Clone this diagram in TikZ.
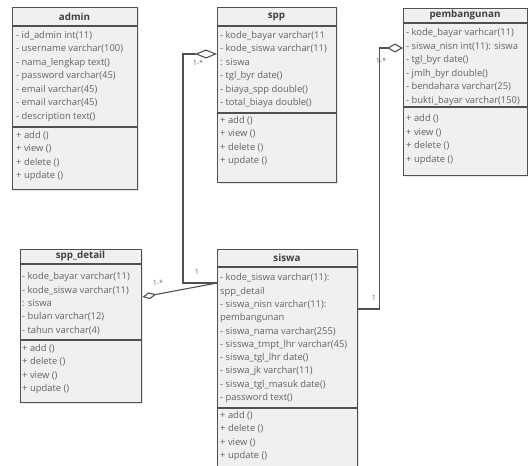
\documentclass[tikz,border=0pt]{standalone}
\usepackage{fontspec}
\setmainfont{Open Sans}
\usetikzlibrary{arrows.meta,shadows}

\definecolor{boxfill}{HTML}{F0F0F0}
\definecolor{boxline}{HTML}{505050}
\definecolor{membertext}{HTML}{636363}

\tikzset{
  classbox/.style={draw=boxline, line width=1.4pt, fill=boxfill, anchor=north west, inner sep=0pt,
    drop shadow={opacity=0.2, shadow xshift=1.5pt, shadow yshift=-1.5pt}},
  classtitle/.style={font=\bfseries\fontsize{9.8}{11}\selectfont, text=black!75, inner sep=0pt},
  members/.style={anchor=north west, align=left, inner sep=0pt, text=membertext,
    font=\fontsize{9.4}{13.5}\selectfont, execute at begin node=\strut},
  divider/.style={draw=boxline, line width=1.3pt},
  assoc/.style={draw=boxline, line width=1.1pt},
  mult/.style={font=\fontsize{7.2}{8}\selectfont, text=membertext, inner sep=0pt},
}

\begin{document}
\begin{tikzpicture}[x=1pt, y=-1pt]
  \useasboundingbox (0,0) rectangle (528,466);
  \clip (0,0) rectangle (528,466);

  % admin
  \node[classbox, minimum width=125pt, minimum height=182pt] (admin) at (12,7) {};
  \draw[divider] ([yshift=-19pt]admin.north west) -- ([yshift=-19pt]admin.north east);
  \draw[divider] ([yshift=-120pt]admin.north west) -- ([yshift=-120pt]admin.north east);
  \node[classtitle] (admin-t) at (74.5,16.5) {admin};
  \node[members] (admin-a) at (16,31) {- id\_admin int(11)\\- username varchar(100)\\- nama\_lengkap text()\\- password varchar(45)\\- email varchar(45)\\- email varchar(45)\\- description text()};
  \node[members] (admin-m) at (16,131) {+ add ()\\+ view ()\\+ delete ()\\+ update ()};

  % spp
  \node[classbox, minimum width=119pt, minimum height=175pt] (spp) at (217,7) {};
  \draw[divider] ([yshift=-19pt]spp.north west) -- ([yshift=-19pt]spp.north east);
  \draw[divider] ([yshift=-106pt]spp.north west) -- ([yshift=-106pt]spp.north east);
  \node[classtitle] (spp-t) at (276.5,16.5) {spp};
  \node[members] (spp-a) at (220,31) {- kode\_bayar varchar(11\\- kode\_siswa varchar(11)\\: siswa\\- tgl\_byr date()\\- biaya\_spp double()\\- total\_biaya double()};
  \node[members] (spp-m) at (220,116) {+ add ()\\+ view ()\\+ delete ()\\+ update ()};

  % pembangunan
  \node[classbox, minimum width=124pt, minimum height=167pt] (pemb) at (403,8) {};
  \draw[divider] ([yshift=-15pt]pemb.north west) -- ([yshift=-15pt]pemb.north east);
  \draw[divider] ([yshift=-99pt]pemb.north west) -- ([yshift=-99pt]pemb.north east);
  \node[classtitle] (pemb-t) at (465,15) {pembangunan};
  \node[members] (pemb-a) at (406,28.5) {- kode\_bayar varhcar(11)\\- siswa\_nisn int(11): siswa\\- tgl\_byr date()\\- jmlh\_byr double()\\- bendahara varchar(25)\\- bukti\_bayar varchar(150)};
  \node[members] (pemb-m) at (406,114.5) {+ add ()\\+ view ()\\+ delete ()\\+ update ()};

  % spp_detail
  \node[classbox, minimum width=121pt, minimum height=153pt] (sppdetail) at (20,249) {};
  \draw[divider] ([yshift=-15pt]sppdetail.north west) -- ([yshift=-15pt]sppdetail.north east);
  \draw[divider] ([yshift=-91pt]sppdetail.north west) -- ([yshift=-91pt]sppdetail.north east);
  \node[classtitle] (sppdetail-t) at (80.5,256) {spp\_detail};
  \node[members, font=\fontsize{9.4}{13.3}\selectfont] (sppdetail-a) at (22,272.5) {- kode\_bayar varchar(11)\\- kode\_siswa varchar(11)\\: siswa\\- bulan varchar(12)\\- tahun varchar(4)};
  \node[members] (sppdetail-m) at (22,344) {+ add ()\\+ delete ()\\+ view ()\\+ update ()};

  % siswa
  \node[classbox, minimum width=140pt, minimum height=225pt] (siswa) at (217,249) {};
  \draw[divider] ([yshift=-18pt]siswa.north west) -- ([yshift=-18pt]siswa.north east);
  \draw[divider] ([yshift=-159pt]siswa.north west) -- ([yshift=-159pt]siswa.north east);
  \node[classtitle] (siswa-t) at (287,258) {siswa};
  \node[members, font=\fontsize{9.4}{13.3}\selectfont] (siswa-a) at (220,273.5) {- kode\_siswa varchar(11):\\spp\_detail\\- siswa\_nisn varchar(11):\\pembangunan\\- siswa\_nama varchar(255)\\- sisswa\_tmpt\_lhr varchar(45)\\- siswa\_tgl\_lhr date()\\- siswa\_jk varchar(11)\\- siswa\_tgl\_masuk date()\\- password text()};
  \node[members] (siswa-m) at (220,411) {+ add ()\\+ delete ()\\+ view ()\\+ update ()};

  % associations
  \draw[assoc, -{Diamond[open, fill=white, length=22pt, width=9pt]}]
    ([yshift=-34pt]siswa.north west) -- ++(-34,0) |- ([yshift=-47pt]spp.north west);
  \draw[assoc, -{Diamond[open, fill=white, length=14pt, width=7pt]}]
    ([yshift=-34pt]siswa.north west) -- ([yshift=-48pt]sppdetail.north east);
  \draw[assoc, -{Diamond[open, fill=white, length=16pt, width=9pt]}]
    ([yshift=-60pt]siswa.north east) -- ++(21,0) |- ([yshift=-40pt]pemb.north west);

  % multiplicities
  \node[mult] (m-spp) at (198,63) {1-*};
  \node[mult] (m-spp1) at (197,272) {1};
  \node[mult] (m-det) at (158,283) {1-*};
  \node[mult] (m-pemb) at (381,61) {1-*};
  \node[mult] (m-pemb1) at (374,298) {1};
\end{tikzpicture}
\end{document}
